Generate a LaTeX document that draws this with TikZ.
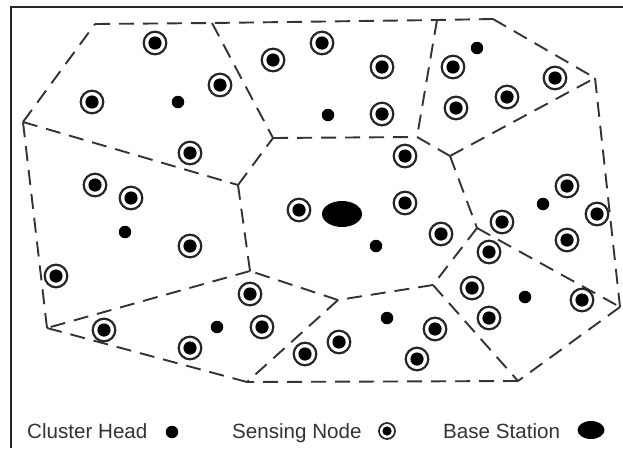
\documentclass[tikz,border=0pt]{standalone}
\usepackage{fontspec}
\setmainfont{Liberation Sans}
\usetikzlibrary{shapes.geometric}
\begin{document}
\begin{tikzpicture}[x=1pt,y=-1pt,
  border/.style={draw=black!80, line width=1.9pt, dash pattern=on 15pt off 9pt},
  sensor/.style={circle, draw=black!85, line width=2.2pt, fill=white,
    minimum size=22.6pt, inner sep=0pt,
    path picture={\fill[black] (path picture bounding box.center) circle (6.6pt);}},
  smallsensor/.style={circle, draw=black!85, line width=1.7pt, fill=white,
    minimum size=16pt, inner sep=0pt,
    path picture={\fill[black] (path picture bounding box.center) circle (4.6pt);}},
  chead/.style={circle, fill=black, minimum size=12.5pt, inner sep=0pt},
  station/.style={ellipse, fill=black, inner sep=0pt},
  legendtext/.style={anchor=base west, inner sep=0pt, text=black!80,
    font=\fontsize{20.6}{24}\selectfont}]
\useasboundingbox (0,0) rectangle (623,448);

% frame
\draw[line width=2.2pt, black!85] (11,448) -- (11,7) -- (623,7);

% corners of the cluster cells
\coordinate (A) at (95,24);
\coordinate (E) at (212,23);
\coordinate (F) at (437,20);
\coordinate (I) at (493,19);
\coordinate (B) at (23,122);
\coordinate (C) at (238,185);
\coordinate (D) at (273,138);
\coordinate (G) at (417,137);
\coordinate (H) at (450,156);
\coordinate (J) at (595,78);
\coordinate (K) at (620,307);
\coordinate (L) at (518,381);
\coordinate (M) at (433,285);
\coordinate (N) at (477,228);
\coordinate (O) at (338,300);
\coordinate (P) at (250,271);
\coordinate (R) at (47,328);
\coordinate (Q) at (247,382);

% cell borders
\draw[border] (A) -- (E) -- (F) -- (I);
\draw[border] (I) -- (J);
\draw[border] (J) -- (K);
\draw[border] (K) -- (L);
\draw[border] (L) -- (Q);
\draw[border] (Q) -- (R);
\draw[border] (R) -- (B);
\draw[border] (B) -- (A);
\draw[border] (B) -- (C);
\draw[border] (E) -- (D);
\draw[border] (C) -- (D);
\draw[border] (D) -- (G);
\draw[border] (F) -- (G);
\draw[border] (G) -- (H);
\draw[border] (H) -- (J);
\draw[border] (H) -- (N);
\draw[border] (N) -- (K);
\draw[border] (N) -- (M);
\draw[border] (M) -- (L);
\draw[border] (M) -- (O);
\draw[border] (O) -- (P);
\draw[border] (O) -- (Q);
\draw[border] (P) -- (C);
\draw[border] (P) -- (R);

% base station
\node[station, minimum width=40pt, minimum height=26pt] (bs) at (342,214) {};

% cluster heads
\node[chead] (h1) at (178,102) {};
\node[chead] (h2) at (328,115) {};
\node[chead] (h3) at (477,48) {};
\node[chead] (h4) at (125,232) {};
\node[chead] (h5) at (376,246) {};
\node[chead] (h6) at (543,204) {};
\node[chead] (h7) at (217,327) {};
\node[chead] (h8) at (387,318) {};
\node[chead] (h9) at (525,297) {};

% sensing nodes
\node[sensor] (s1) at (155,43) {};
\node[sensor] (s2) at (92,102) {};
\node[sensor] (s3) at (220,85) {};
\node[sensor] (s4) at (190,153) {};
\node[sensor] (s5) at (273,60) {};
\node[sensor] (s6) at (322,43) {};
\node[sensor] (s7) at (382,67) {};
\node[sensor] (s8) at (382,114) {};
\node[sensor] (s9) at (453,67) {};
\node[sensor] (s10) at (456,108) {};
\node[sensor] (s11) at (507,97) {};
\node[sensor] (s12) at (555,78) {};
\node[sensor] (s13) at (95,185) {};
\node[sensor] (s14) at (131,198) {};
\node[sensor] (s15) at (190,246) {};
\node[sensor] (s16) at (56,276) {};
\node[sensor] (s17) at (299,210) {};
\node[sensor] (s18) at (405,156) {};
\node[sensor] (s19) at (405,203) {};
\node[sensor] (s20) at (441,234) {};
\node[sensor] (s21) at (502,222) {};
\node[sensor] (s22) at (567,186) {};
\node[sensor] (s23) at (597,214) {};
\node[sensor] (s24) at (567,240) {};
\node[sensor] (s25) at (250,294) {};
\node[sensor] (s26) at (262,327) {};
\node[sensor] (s27) at (104,330) {};
\node[sensor] (s28) at (190,348) {};
\node[sensor] (s29) at (305,354) {};
\node[sensor] (s30) at (339,342) {};
\node[sensor] (s31) at (435,329) {};
\node[sensor] (s32) at (417,359) {};
\node[sensor] (s33) at (489,252) {};
\node[sensor] (s34) at (472,288) {};
\node[sensor] (s35) at (489,318) {};
\node[sensor] (s36) at (582,300) {};

% legend
\node[legendtext] (l1) at (27,438) {Cluster Head};
\node[chead] (l1m) at (172,432) {};
\node[legendtext] (l2) at (232,438) {Sensing Node};
\node[smallsensor] (l2m) at (387,431) {};
\node[legendtext] (l3) at (443,438) {Base Station};
\node[station, minimum width=27pt, minimum height=18pt] (l3m) at (591,430) {};
\end{tikzpicture}
\end{document}
